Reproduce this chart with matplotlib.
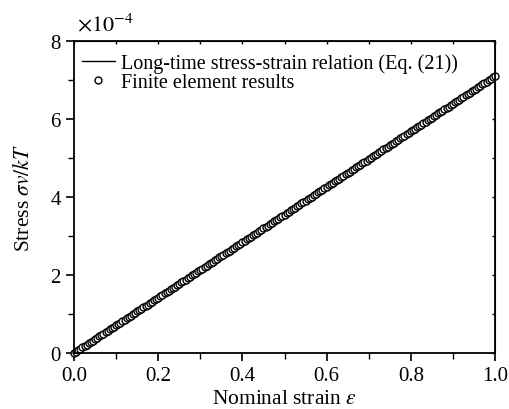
import numpy as np
import matplotlib
matplotlib.use("Agg")
import matplotlib.pyplot as plt
from matplotlib.ticker import MultipleLocator, FuncFormatter

plt.rcParams['font.family'] = ['Liberation Serif', 'DejaVu Serif']
plt.rcParams['mathtext.fontset'] = 'stix'

# long-time relation (Eq. 21), end points
line_strain = [0.0, 1.0]
line_stress = [0.0, 7.1]  # x 1e-4

# finite element results, sampled every 0.005 in strain
fe_strain = np.round(np.arange(201) * 0.005, 3)
fe_stress = [0.000, 0.036, 0.071, 0.107, 0.142, 0.178, 0.213, 0.249, 0.284, 0.320,
             0.355, 0.391, 0.426, 0.462, 0.497, 0.533, 0.568, 0.604, 0.639, 0.675,
             0.710, 0.746, 0.781, 0.817, 0.852, 0.888, 0.923, 0.959, 0.994, 1.030,
             1.065, 1.101, 1.136, 1.172, 1.207, 1.243, 1.278, 1.314, 1.349, 1.385,
             1.420, 1.456, 1.491, 1.527, 1.562, 1.598, 1.633, 1.669, 1.704, 1.740,
             1.775, 1.811, 1.846, 1.882, 1.917, 1.953, 1.988, 2.024, 2.059, 2.095,
             2.130, 2.166, 2.201, 2.237, 2.272, 2.308, 2.343, 2.379, 2.414, 2.450,
             2.485, 2.521, 2.556, 2.592, 2.627, 2.663, 2.698, 2.734, 2.769, 2.805,
             2.840, 2.876, 2.911, 2.947, 2.982, 3.018, 3.053, 3.089, 3.124, 3.160,
             3.195, 3.231, 3.266, 3.302, 3.337, 3.373, 3.408, 3.444, 3.479, 3.515,
             3.550, 3.586, 3.621, 3.657, 3.692, 3.728, 3.763, 3.799, 3.834, 3.870,
             3.905, 3.941, 3.976, 4.012, 4.047, 4.083, 4.118, 4.154, 4.189, 4.225,
             4.260, 4.296, 4.331, 4.367, 4.402, 4.438, 4.473, 4.509, 4.544, 4.580,
             4.615, 4.651, 4.686, 4.722, 4.757, 4.793, 4.828, 4.864, 4.899, 4.935,
             4.970, 5.006, 5.041, 5.077, 5.112, 5.148, 5.183, 5.219, 5.254, 5.290,
             5.325, 5.361, 5.396, 5.432, 5.467, 5.503, 5.538, 5.574, 5.609, 5.645,
             5.680, 5.716, 5.751, 5.787, 5.822, 5.858, 5.893, 5.929, 5.964, 6.000,
             6.035, 6.071, 6.106, 6.142, 6.177, 6.213, 6.248, 6.284, 6.319, 6.355,
             6.390, 6.426, 6.461, 6.497, 6.532, 6.568, 6.603, 6.639, 6.674, 6.710,
             6.745, 6.781, 6.816, 6.852, 6.887, 6.923, 6.958, 6.994, 7.029, 7.065,
             7.100]

line_stress = np.array(line_stress) * 1e-4
fe_stress = np.array(fe_stress) * 1e-4

fig = plt.figure(figsize=(5.09, 4.10), dpi=100)
ax = fig.add_axes([74 / 509, 1 - 354 / 410, 421 / 509, 312 / 410])

ax.plot(line_strain, line_stress, color='black', linewidth=1.0,
        label='Long-time stress-strain relation (Eq. (21))')
ax.plot(fe_strain, fe_stress, linestyle='none', marker='o', markersize=5,
        markerfacecolor='white', markeredgecolor='black', markeredgewidth=1.0,
        label='Finite element results', clip_on=False)

ax.set_xlim(0, 1.0)
ax.set_ylim(0, 8e-4)
ax.xaxis.set_major_locator(MultipleLocator(0.2))
ax.xaxis.set_minor_locator(MultipleLocator(0.1))
ax.yaxis.set_major_locator(MultipleLocator(2e-4))
ax.yaxis.set_minor_locator(MultipleLocator(1e-4))
ax.xaxis.set_major_formatter(FuncFormatter(lambda v, p: f"{v:.1f}"))
ax.yaxis.set_major_formatter(FuncFormatter(lambda v, p: f"{v * 1e4:.0f}"))
ax.text(0.006, 1.017, r'$\times10^{-4}$', transform=ax.transAxes,
        fontsize=16, ha='left', va='bottom')

for s in ax.spines.values():
    s.set_linewidth(1.3)
ax.tick_params(which='major', direction='out', length=6, width=1.2, labelsize=15)
ax.tick_params(which='minor', direction='out', length=4, width=1.0)

top = ax.secondary_xaxis('top')
top.xaxis.set_major_locator(MultipleLocator(0.1))
top.tick_params(direction='in', length=2, width=1.0, labeltop=False)
right = ax.secondary_yaxis('right')
right.yaxis.set_major_locator(MultipleLocator(1e-4))
right.tick_params(direction='in', length=2, width=1.0, labelright=False)

ax.set_xlabel(r'Nominal strain $\varepsilon$', fontsize=15.5, labelpad=3)
ax.set_ylabel(r'Stress $\sigma v/kT$', fontsize=15.5, labelpad=12)

ax.legend(loc='upper left', bbox_to_anchor=(0.009, 0.975), frameon=False,
          fontsize=14.5, handlelength=1.65, handletextpad=0.3, borderaxespad=0,
          labelspacing=0.0, borderpad=0.2)

fig.savefig('out.png', dpi=100)
